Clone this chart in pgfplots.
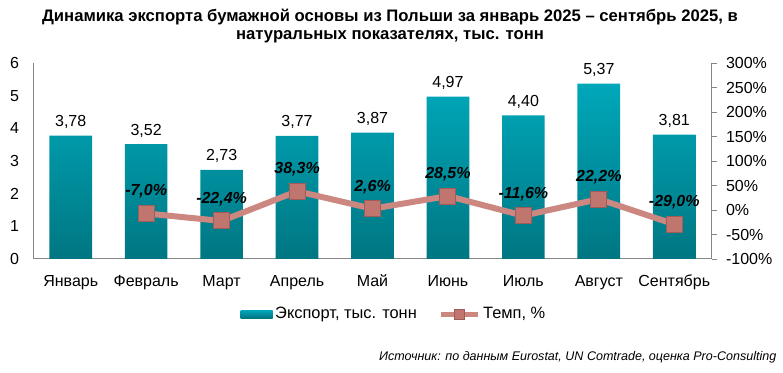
\documentclass[border=0pt]{standalone}
\usepackage{fontspec}
\setmainfont{Liberation Sans}
\usepackage{pgfplots}
\pgfplotsset{compat=1.18}
\definecolor{bartop}{RGB}{0,168,186}
\definecolor{barbot}{RGB}{0,118,130}
\definecolor{linec}{RGB}{204,136,128}
\definecolor{markf}{RGB}{192,118,110}
\definecolor{markd}{RGB}{160,92,88}
\definecolor{axisc}{RGB}{134,134,134}
\begin{document}
\begin{tikzpicture}
\useasboundingbox (0,0) rectangle (587.25pt,279pt);
\node[font=\fontsize{12.5}{14}\selectfont\bfseries, align=center] at (292.5pt,259.5pt)
  {Динамика экспорта бумажной основы из Польши за январь 2025 – сентябрь 2025, в\\натуральных показателях, тыс. тонн};
\node[font=\fontsize{9.4}{11}\selectfont\itshape, anchor=east] at (585.75pt,11.25pt)
  {Источник: по данным Eurostat, UN Comtrade, оценка Pro-Consulting};
\begin{axis}[
  at={(24.75pt,84.75pt)}, anchor=south west,
  scale only axis, width=509.25pt, height=147pt,
  xmin=-0.5, xmax=8.5, ymin=0, ymax=6,
  axis x line*=bottom, axis y line*=left,
  axis line style={axisc, line width=0.75pt},
  xtick={0,...,8},
  xticklabels={Январь,Февраль,Март,Апрель,Май,Июнь,Июль,Август,Сентябрь},
  ytick={0,...,6},
  yticklabels={0,1,2,3,4,5,6},
  major tick length=0pt,
  tick label style={font=\fontsize{12}{14}\selectfont},
  yticklabel style={xshift=-7pt},
  xticklabel style={yshift=-8.5pt},
  clip=false,
]
\addplot[ybar, bar width=32pt, draw=none, top color=bartop, bottom color=barbot,
  point meta=explicit symbolic,
  nodes near coords,
  nodes near coords style={font=\fontsize{12}{14}\selectfont, anchor=south, inner sep=0pt, yshift=5pt, text=black}]
  coordinates {(0,3.78)[3,78] (1,3.52)[3,52] (2,2.73)[2,73] (3,3.77)[3,77] (4,3.87)[3,87] (5,4.97)[4,97] (6,4.40)[4,40] (7,5.37)[5,37] (8,3.81)[3,81]};
\end{axis}
\begin{axis}[
  at={(24.75pt,84.75pt)}, anchor=south west,
  scale only axis, width=509.25pt, height=147pt,
  xmin=-0.5, xmax=8.5, ymin=-100, ymax=300,
  axis x line=none, axis y line*=right,
  axis line style={axisc, line width=0.75pt},
  xtick=\empty,
  ytick={-100,-50,0,50,100,150,200,250,300},
  yticklabels={-100\%,-50\%,0\%,50\%,100\%,150\%,200\%,250\%,300\%},
  tick align=outside, major tick length=4pt,
  tick style={axisc, line width=0.75pt},
  tick label style={font=\fontsize{12}{14}\selectfont},
  yticklabel style={xshift=3pt},
  clip=false,
  legend columns=2,
  legend style={at={(0.532,-0.281)}, anchor=center, draw=none, fill=none,
    font=\fontsize{12.3}{14}\selectfont,
    /tikz/every even column/.append style={column sep=14pt},
    nodes={inner sep=2pt}},
]
\addlegendimage{legend image code/.code={\path[top color=bartop,bottom color=barbot,draw=none] (0pt,-3pt) rectangle (24pt,3pt);}}
\addlegendentry{Экспорт, тыс. тонн}
\addplot[linec, line width=4.5pt, mark=square*, mark size=6pt,
  mark options={fill=markf, draw=markd, line width=0.75pt},
  point meta=explicit symbolic,
  nodes near coords,
  nodes near coords style={font=\fontsize{12}{14}\selectfont\bfseries\itshape, anchor=south, inner sep=0pt, yshift=11pt, text=black},
  legend image code/.code={\draw[linec, line width=3.75pt] (0pt,0pt) -- (28pt,0pt); \fill[markf, draw=markd, line width=0.5pt] (10.25pt,-3.75pt) rectangle (17.75pt,3.75pt);}]
  coordinates {(1,-7.0)[-7,0\%] (2,-22.4)[-22,4\%] (3,38.3)[38,3\%] (4,2.6)[2,6\%] (5,28.5)[28,5\%] (6,-11.6)[-11,6\%] (7,22.2)[22,2\%] (8,-29.0)[-29,0\%]};
\addlegendentry{Темп, \%}
\end{axis}
\end{tikzpicture}
\end{document}
